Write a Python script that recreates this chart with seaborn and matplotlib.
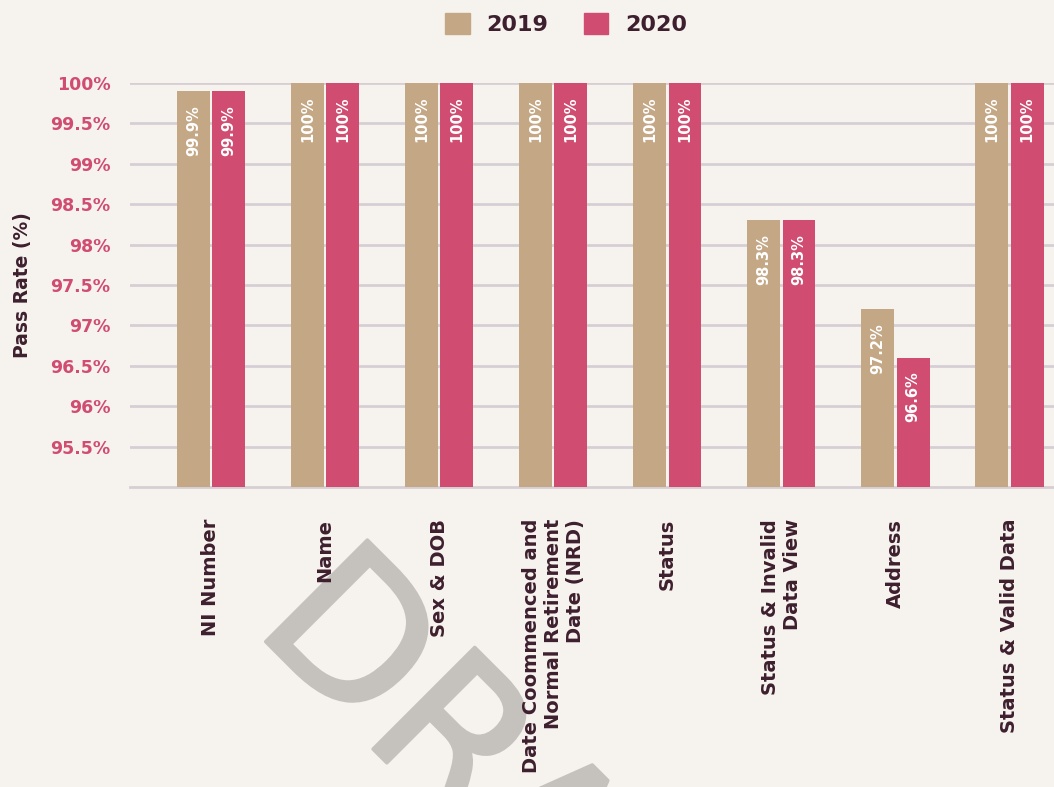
import numpy as np
import pandas as pd
import matplotlib
matplotlib.use('Agg')
import matplotlib.pyplot as plt
import matplotlib.patheffects as pe
from matplotlib.patches import Patch
import seaborn as sns

# chart data
categories = ['NI Number', 'Name', 'Sex & DOB',
              'Date Coommenced and\nNormal Retirement\nDate (NRD)',
              'Status', 'Status & Invalid\nData View', 'Address',
              'Status & Valid Data']
years = ['2019', '2020']
pass_2019 = [99.9, 100, 100, 100, 100, 98.3, 97.2, 100]
pass_2020 = [99.9, 100, 100, 100, 100, 98.3, 96.6, 100]
y_ticks = [95.5, 96, 96.5, 97, 97.5, 98, 98.5, 99, 99.5, 100]

bg = '#f6f3ef'
tan = '#c4a886'
pink = '#d04c71'
dark = '#3d1f2e'
grid_col = '#d6ced4'

df = pd.DataFrame({
    'Check': categories * 2,
    'Pass': pass_2019 + pass_2020,
    'Year': [years[0]] * len(categories) + [years[1]] * len(categories),
})

sns.set_style('white')
plt.rcParams['font.family'] = ['DejaVu Sans']

fig = plt.figure(figsize=(10.54, 7.87), dpi=100, facecolor=bg)
ax = fig.add_axes([130 / 1054, 1 - 487 / 787, 1 - 130 / 1054, (487 - 83) / 787])
ax.set_facecolor('none')

sns.barplot(data=df, x='Check', y='Pass', hue='Year', order=categories,
            palette=[tan, pink], width=0.62, gap=0.07, saturation=1,
            linewidth=0, legend=False, ax=ax, zorder=3)

# value labels inside the bars
for cont, vals in zip(ax.containers, [pass_2019, pass_2020]):
    for bar, v in zip(cont, vals):
        txt = '100%' if v == 100 else f'{v:.1f}%'
        ax.annotate(txt, (bar.get_x() + bar.get_width() / 2, v),
                    xytext=(0, -10), textcoords='offset points',
                    rotation=90, ha='center', va='top', color='white',
                    fontsize=10.5, fontweight='bold', zorder=4)

ax.set_ylim(95, 100)
ax.set_xlim(-0.71, 7.39)
ax.set_yticks(y_ticks)
ax.set_yticklabels([f'{t:g}%' for t in y_ticks])
ax.yaxis.grid(True, color=grid_col, linewidth=2, zorder=0)
ax.set_axisbelow(True)
ax.tick_params(axis='y', length=0, pad=14, labelcolor=pink, labelsize=12.5)
for lab in ax.get_yticklabels():
    lab.set_fontweight('bold')

ax.set_xticks(range(len(categories)))
ax.set_xticklabels(categories, rotation=90, ha='center', va='top',
                   fontsize=14, fontweight='bold', color=dark,
                   multialignment='right')
ax.tick_params(axis='x', which='major', length=0, pad=23)
ax.set_xticks(np.arange(0.5, len(categories) - 1), minor=True)
ax.tick_params(axis='x', which='minor', length=7, width=1.5, color=grid_col,
               direction='out')

for s in ['top', 'right', 'left']:
    ax.spines[s].set_visible(False)
ax.spines['bottom'].set_color(grid_col)
ax.spines['bottom'].set_linewidth(2)

ax.set_xlabel('')
ax.set_ylabel('Pass Rate (%)', fontsize=13.5, fontweight='bold', color=dark)
ax.yaxis.set_label_coords(-98 / 924, 0.5)

handles = [Patch(color=tan, label=years[0]), Patch(color=pink, label=years[1])]
leg = fig.legend(handles=handles, loc='center',
                 bbox_to_anchor=(566 / 1054, 1 - 24 / 787),
                 ncol=2, frameon=False, handlelength=1.1,
                 handleheight=1.1, handletextpad=0.75, columnspacing=1.6,
                 prop={'weight': 'bold', 'size': 16})
for t in leg.get_texts():
    t.set_color(dark)

# draft watermark behind the labels
fig.text(252 / 1054, 1 - 628 / 787, 'DRAFT', rotation=-45,
         rotation_mode='anchor', ha='left', va='baseline', fontsize=142,
         color='#c5c1bd', zorder=-1,
         path_effects=[pe.withStroke(linewidth=2.5, foreground='#c5c1bd')])

fig.savefig('out.png', dpi=100, facecolor=bg)
